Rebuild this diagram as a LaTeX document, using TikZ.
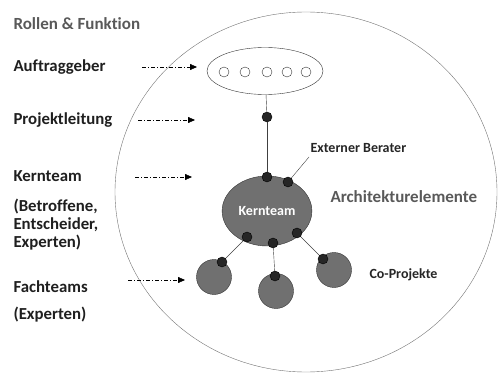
\documentclass[tikz,border=0pt]{standalone}
\usepackage{fontspec}
\setmainfont{Carlito}[Ligatures={NoCommon}]
\usetikzlibrary{shapes.geometric,arrows.meta}
\definecolor{kreis}{gray}{0.44}
\definecolor{grau}{gray}{0.35}

\begin{document}
\begin{tikzpicture}[x=1pt,y=-1pt,
  rolle/.style={anchor=west,font=\bfseries\fontsize{16.8}{18}\selectfont,text=black!88},
  pfeil/.style={thin,dash pattern=on 4pt off 2pt on 1pt off 2pt,-{Triangle[length=7pt,width=6pt]}},
  punkt/.style={circle,fill=black!85,draw=black,inner sep=0,minimum size=10pt},
  team/.style={circle,fill=kreis,draw=black!80,inner sep=0,minimum size=35pt},
  klein/.style={circle,draw=black!80,inner sep=0,minimum size=10pt},
  notiz/.style={anchor=west,font=\bfseries\fontsize{14}{16}\selectfont,text=black!85}]
\useasboundingbox (0,0) rectangle (498,374);
\clip (0,0) rectangle (498,374);
%grosser Kreis
\draw[black!55] (306,192) ellipse [x radius=191, y radius=180];
%Rollen links
\node[rolle,text=grau,font=\bfseries\fontsize{17}{18}\selectfont] (titel) at (10,24) {Rollen \& Funktion};
\node[rolle] (auftraggeber) at (10,67) {Auftraggeber};
\node[rolle] (leitung) at (10,120) {Projektleitung};
\node[rolle] (kern) at (10,176) {Kernteam};
\node[rolle,align=left,font=\bfseries\fontsize{16.8}{18}\selectfont] (betroffene) at (10,225) {(Betroffene,\\Entscheider,\\Experten)};
\node[rolle] (fach) at (10,287) {Fachteams};
\node[rolle] (experten) at (10,315) {(Experten)};
%Pfeile
\coordinate (p1a) at (142,67);
\coordinate (p1b) at (197,67);
\coordinate (p2a) at (138,120);
\coordinate (p2b) at (195,120);
\coordinate (p3a) at (135,177);
\coordinate (p3b) at (192,177);
\coordinate (p4a) at (128,280);
\coordinate (p4b) at (185,280);
\draw[pfeil] (p1a) -- (p1b);
\draw[pfeil] (p2a) -- (p2b);
\draw[pfeil] (p3a) -- (p3b);
\draw[pfeil] (p4a) -- (p4b);
%Auftraggeber-Ellipse
\node[ellipse,draw=black!80,minimum width=116pt,minimum height=47pt] (auftrag) at (265,71) {};
\node[klein] (k1) at (224,72) {};
\node[klein] (k2) at (245,72) {};
\node[klein] (k3) at (267,72) {};
\node[klein] (k4) at (287,72) {};
\node[klein] (k5) at (306,72) {};
%Kernteam
\node[ellipse,fill=kreis,draw=black!80,minimum width=77pt,minimum height=70pt,
  text=white,font=\bfseries\fontsize{14}{16}\selectfont] (kernteam) at (267,211) {Kernteam};
\node[team] (fach1) at (214,277) {};
\node[team] (fach2) at (276,291) {};
\node[team] (fach3) at (334,270) {};
%Punkte
\node[punkt] (pl) at (267,117) {};
\node[punkt] (ko) at (267,177) {};
\node[punkt] (kb) at (288,182) {};
\node[punkt] (kl) at (247,237) {};
\node[punkt] (ku) at (273,243) {};
\node[punkt] (kr) at (297,233) {};
\node[punkt] (f1) at (222,262) {};
\node[punkt] (f2) at (275,276) {};
\node[punkt] (f3) at (323,259) {};
%Verbindungen
\draw[black!75] (auftrag) -- (pl);
\draw[black!75] (pl) -- (ko);
\draw[black!75] (kl) -- (f1);
\draw[black!75] (ku) -- (f2);
\draw[black!75] (kr) -- (f3);
\coordinate (berater) at (309,157);
\draw[black!75] (kb) -- (berater);
%Beschriftungen rechts
\node[notiz] (externer) at (307,148) {Externer Berater};
\node[anchor=west,font=\bfseries\fontsize{17}{18}\selectfont,text=grau] (architektur) at (327,197) {Architekturelemente};
\node[notiz] (co) at (366,275) {Co-Projekte};
\end{tikzpicture}
\end{document}
